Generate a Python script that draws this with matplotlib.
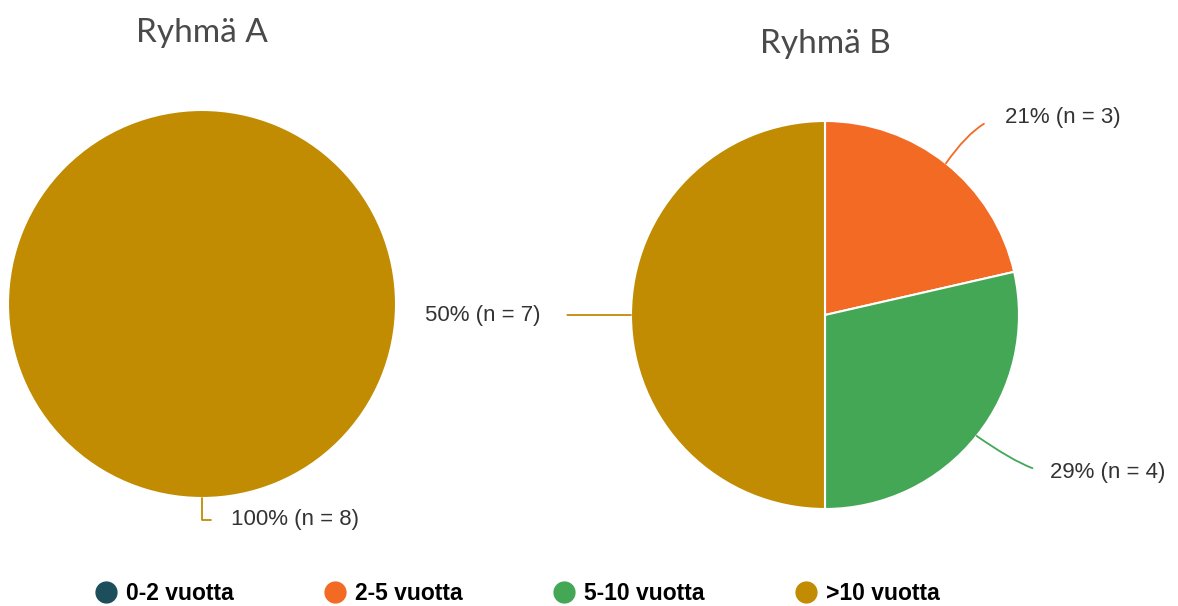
import numpy as np
import matplotlib.pyplot as plt
from matplotlib.lines import Line2D

# Categories and counts per group
categories = ["0-2 vuotta", "2-5 vuotta", "5-10 vuotta", ">10 vuotta"]
group_titles = ["Ryhmä A", "Ryhmä B"]
group_a = [0, 0, 0, 8]
group_b = [0, 3, 4, 7]
colors = ["#1D4E5C", "#F26A24", "#43A756", "#C18B02"]

W, H = 1178, 606
fig = plt.figure(figsize=(W / 100, H / 100), dpi=100)

# pie boxes in pixels: left, top, diameter
boxes = [(8, 110, 388), (631, 121, 388)]

# label placement (text x, y in radius units, ha, connection style, gap)
label_style = {
    0: {3: (0.149, -1.113, "left", "angle,angleA=0,angleB=90,rad=0", 12)},
    1: {1: (0.928, 1.02, "left", "angle3,angleA=0,angleB=55", 14),
        2: (1.16, -0.81, "left", "angle3,angleA=0,angleB=-35", 11),
        3: (-1.464, 0.0, "right", "arc3,rad=0", 17)},
}

for gi, (vals, title) in enumerate(zip([group_a, group_b], group_titles)):
    left, top, d = boxes[gi]
    ax = fig.add_axes([left / W, (H - top - d) / H, d / W, d / H])
    # skip empty categories so no zero-width wedge edges get drawn
    idx = [i for i, v in enumerate(vals) if v > 0]
    v = [vals[i] for i in idx]
    total = sum(vals)
    wedges, _ = ax.pie(v, colors=[colors[i] for i in idx], startangle=90,
                       counterclock=False, radius=1,
                       wedgeprops=dict(edgecolor="white", linewidth=1.5))
    ax.set_xlim(-1, 1)
    ax.set_ylim(-1, 1)
    ax.set_aspect("equal")
    ax.set_title(title, fontsize=24, family="Lato", color="#4a4a4a", pad=49)

    for w, i in zip(wedges, idx):
        mid = np.deg2rad((w.theta1 + w.theta2) / 2)
        tx, ty, ha, cs, gap = label_style[gi][i]
        pct = round(100 * vals[i] / total)
        ax.annotate(f"{pct}% (n = {vals[i]})",
                    xy=(np.cos(mid), np.sin(mid)), xytext=(tx, ty),
                    ha=ha, va="center", fontsize=16, color="#333333",
                    family="Liberation Sans", annotation_clip=False,
                    arrowprops=dict(arrowstyle="-", color=colors[i], lw=1.3,
                                    connectionstyle=cs,
                                    relpos=(0, 0.5) if ha == "left" else (1, 0.5),
                                    shrinkA=gap, shrinkB=0))

handles = [Line2D([], [], marker="o", linestyle="", markersize=15,
                  markerfacecolor=c, markeredgecolor=c) for c in colors]
fig.legend(handles, categories, loc="center", bbox_to_anchor=(0.438, 1 - 594 / H),
           ncol=4, frameon=False, handlelength=1.2, handletextpad=0.3,
           columnspacing=3.8,
           prop=dict(family="Liberation Sans", weight="bold", size=16.5))

fig.savefig("out.png", dpi=100)
